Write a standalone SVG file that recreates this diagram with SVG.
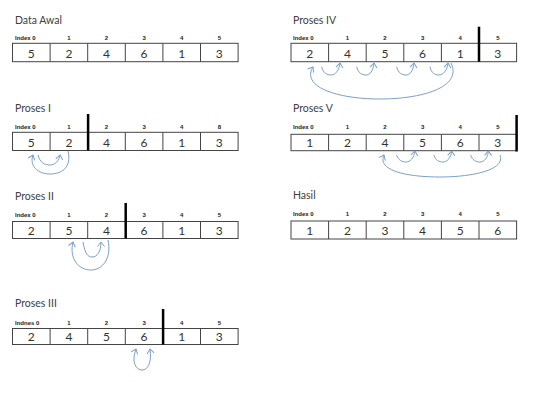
<svg xmlns="http://www.w3.org/2000/svg" width="558" height="402" viewBox="0 0 558 402">
<style>
.bg{fill:#ffffff}
.title{font-family:Lato,"Liberation Sans",sans-serif;font-size:10.5px;fill:#404040}
.idx{font-family:"Liberation Sans",Arial,sans-serif;font-size:6px;font-weight:bold;fill:#222}
.idxm{font-family:"Liberation Sans",Arial,sans-serif;font-size:6px;font-weight:bold;fill:#222;text-anchor:middle}
.val{font-family:Lato,"Liberation Sans",sans-serif;font-size:12px;fill:#333;text-anchor:middle}
.cell{fill:#fff;stroke:#444;stroke-width:1}
.sep{stroke:#444;stroke-width:1}
.bar{stroke:#000;stroke-width:2.5}
.arc{fill:none;stroke:#7c9fc9;stroke-width:1}
</style>
<defs>
<marker id="ah" markerWidth="10" markerHeight="10" refX="0" refY="0" viewBox="-6 -5 8 10" orient="auto-start-reverse" markerUnits="userSpaceOnUse">
<path d="M-4.5,-3.5 L0,0 L-4.5,3.5" fill="none" stroke="#7c9fc9" stroke-width="1"/>
</marker>
</defs>
<rect class="bg" x="0" y="0" width="558" height="402"/>

<g id="data-awal">
<text class="title" x="15" y="23.5">Data Awal</text>
<text class="idx" x="15" y="40">Index 0</text>
<text class="idxm" x="68.9" y="40">1</text><text class="idxm" x="106.5" y="40">2</text><text class="idxm" x="144.1" y="40">3</text><text class="idxm" x="181.7" y="40">4</text><text class="idxm" x="219.3" y="40">5</text>
<rect class="cell" x="12.5" y="43.3" width="225.6" height="18.4"/>
<path class="sep" d="M50.1,43.3V61.7M87.7,43.3V61.7M125.3,43.3V61.7M162.9,43.3V61.7M200.5,43.3V61.7"/>
<text class="val" x="31.3" y="58.2">5</text><text class="val" x="68.9" y="58.2">2</text><text class="val" x="106.5" y="58.2">4</text><text class="val" x="144.1" y="58.2">6</text><text class="val" x="181.7" y="58.2">1</text><text class="val" x="219.3" y="58.2">3</text>
</g>

<g id="proses-1">
<text class="title" x="15" y="111.5">Proses I</text>
<text class="idx" x="15" y="128.5">Index 0</text>
<text class="idxm" x="68.9" y="128.5">1</text><text class="idxm" x="106.5" y="128.5">2</text><text class="idxm" x="144.1" y="128.5">3</text><text class="idxm" x="181.7" y="128.5">4</text><text class="idxm" x="219.3" y="128.5">8</text>
<rect class="cell" x="12.5" y="132.3" width="225.6" height="18.2"/>
<path class="sep" d="M50.1,132.3V150.5M125.3,132.3V150.5M162.9,132.3V150.5M200.5,132.3V150.5"/>
<path class="bar" d="M88.1,114V150.5"/>
<text class="val" x="31.3" y="147">5</text><text class="val" x="68.9" y="147">2</text><text class="val" x="106.5" y="147">4</text><text class="val" x="144.1" y="147">6</text><text class="val" x="181.7" y="147">1</text><text class="val" x="219.3" y="147">3</text>
</g>

<g id="proses-2">
<text class="title" x="15" y="200">Proses II</text>
<text class="idx" x="15" y="217">Index  0</text>
<text class="idxm" x="68.9" y="217">1</text><text class="idxm" x="106.5" y="217">2</text><text class="idxm" x="144.1" y="217">3</text><text class="idxm" x="181.7" y="217">4</text><text class="idxm" x="219.3" y="217">5</text>
<rect class="cell" x="12.5" y="221.5" width="225.6" height="17"/>
<path class="sep" d="M50.1,221.5V238.5M87.7,221.5V238.5M162.9,221.5V238.5M200.5,221.5V238.5"/>
<path class="bar" d="M125.7,203V238.5"/>
<text class="val" x="31.3" y="234.5">2</text><text class="val" x="68.9" y="234.5">5</text><text class="val" x="106.5" y="234.5">4</text><text class="val" x="144.1" y="234.5">6</text><text class="val" x="181.7" y="234.5">1</text><text class="val" x="219.3" y="234.5">3</text>
</g>

<g id="proses-3">
<text class="title" x="15" y="306.5">Proses III</text>
<text class="idx" x="15" y="324.5">Indnes 0</text>
<text class="idxm" x="68.9" y="324.5">1</text><text class="idxm" x="106.5" y="324.5">2</text><text class="idxm" x="144.1" y="324.5">3</text><text class="idxm" x="181.7" y="324.5">4</text><text class="idxm" x="219.3" y="324.5">5</text>
<rect class="cell" x="12.5" y="328.5" width="225.6" height="16"/>
<path class="sep" d="M50.1,328.5V344.5M87.7,328.5V344.5M125.3,328.5V344.5M200.5,328.5V344.5"/>
<path class="bar" d="M163.1,309V344.5"/>
<text class="val" x="31.3" y="340.8">2</text><text class="val" x="68.9" y="340.8">4</text><text class="val" x="106.5" y="340.8">5</text><text class="val" x="144.1" y="340.8">6</text><text class="val" x="181.7" y="340.8">1</text><text class="val" x="219.3" y="340.8">3</text>
</g>

<g id="proses-4">
<text class="title" x="293" y="23.5">Proses IV</text>
<text class="idx" x="293" y="39.7">Index 0</text>
<text class="idxm" x="347.4" y="39.7">1</text><text class="idxm" x="385" y="39.7">2</text><text class="idxm" x="422.6" y="39.7">3</text><text class="idxm" x="460.2" y="39.7">4</text><text class="idxm" x="497.8" y="39.7">5</text>
<rect class="cell" x="291" y="43.3" width="225.6" height="18.4"/>
<path class="sep" d="M328.6,43.3V61.7M366.2,43.3V61.7M403.8,43.3V61.7M441.4,43.3V61.7"/>
<path class="bar" d="M479,26.7V61.7"/>
<text class="val" x="309.8" y="58.2">2</text><text class="val" x="347.4" y="58.2">4</text><text class="val" x="385" y="58.2">5</text><text class="val" x="422.6" y="58.2">6</text><text class="val" x="460.2" y="58.2">1</text><text class="val" x="497.8" y="58.2">3</text>
</g>

<g id="proses-5">
<text class="title" x="293" y="111.8">Proses V</text>
<text class="idx" x="293" y="129.3">Index 0</text>
<text class="idxm" x="347.4" y="129.3">1</text><text class="idxm" x="385" y="129.3">2</text><text class="idxm" x="422.6" y="129.3">3</text><text class="idxm" x="460.2" y="129.3">4</text><text class="idxm" x="497.8" y="129.3">5</text>
<rect class="cell" x="291" y="134.3" width="225.6" height="16.4"/>
<path class="sep" d="M328.6,134.3V150.7M366.2,134.3V150.7M403.8,134.3V150.7M441.4,134.3V150.7M479,134.3V150.7"/>
<path class="bar" d="M516.6,115V151.5"/>
<text class="val" x="309.8" y="146.7">1</text><text class="val" x="347.4" y="146.7">2</text><text class="val" x="385" y="146.7">4</text><text class="val" x="422.6" y="146.7">5</text><text class="val" x="460.2" y="146.7">6</text><text class="val" x="497.8" y="146.7">3</text>
</g>

<g id="hasil">
<text class="title" x="293" y="199.2">Hasil</text>
<text class="idx" x="293" y="216.3">Index 0</text>
<text class="idxm" x="347.4" y="216.3">1</text><text class="idxm" x="385" y="216.3">2</text><text class="idxm" x="422.6" y="216.3">3</text><text class="idxm" x="460.2" y="216.3">4</text><text class="idxm" x="497.8" y="216.3">5</text>
<rect class="cell" x="291" y="221" width="225.6" height="18"/>
<path class="sep" d="M328.6,221V239M366.2,221V239M403.8,221V239M441.4,221V239M479,221V239"/>
<text class="val" x="309.8" y="234.8">1</text><text class="val" x="347.4" y="234.8">2</text><text class="val" x="385" y="234.8">3</text><text class="val" x="422.6" y="234.8">4</text><text class="val" x="460.2" y="234.8">5</text><text class="val" x="497.8" y="234.8">6</text>
</g>

<g id="connectors">
<path class="arc" marker-end="url(#ah)" d="M68,151 C72,168 61,174 50,174 C38,174 29,166 33,155"/>
<path class="arc" marker-end="url(#ah)" d="M38,155 C40,163 45,165 50,165 C55,165 59,161 60,155"/>
<path class="arc" marker-end="url(#ah)" d="M108,240 C112,259 102,270 91,270 C78,270 69,258 73,242"/>
<path class="arc" marker-end="url(#ah)" d="M83,242 C85,254 88,257 92,257 C97,257 101,252 101,242"/>
<path class="arc" marker-start="url(#ah)" marker-end="url(#ah)" d="M136,349 C131,362 136,370 142,370 C148,370 152,362 150,349"/>
<path class="arc" marker-end="url(#ah)" d="M451,63 C463,88 420,99 380,99 C335,99 301,86 313,67"/>
<path class="arc" marker-end="url(#ah)" d="M321.7,66.7 C323,73 327,75 331,75 C335,75 339,71 340,63"/>
<path class="arc" marker-end="url(#ah)" d="M356.7,66.7 C358,73 362,75 366,75 C370,75 373,71 374,63"/>
<path class="arc" marker-end="url(#ah)" d="M396.7,66.7 C398,73 402,75 406,75 C410,75 413,71 414,63"/>
<path class="arc" marker-end="url(#ah)" d="M430,66.7 C431,73 435,75 439,75 C443,75 447,71 448,63"/>
<path class="arc" marker-end="url(#ah)" d="M500,155 C506,170 472,177 440,177 C405,177 377,170 384,155"/>
<path class="arc" marker-end="url(#ah)" d="M396.7,155 C398,160 402,162 406,162 C410,162 414,158 415,151"/>
<path class="arc" marker-end="url(#ah)" d="M434,155 C435,160 439,162 443,162 C447,162 451,158 451.7,151"/>
<path class="arc" marker-end="url(#ah)" d="M470.7,155 C472,160 476,162 480,162 C484,162 488,158 488.3,151"/>
</g>
</svg>
